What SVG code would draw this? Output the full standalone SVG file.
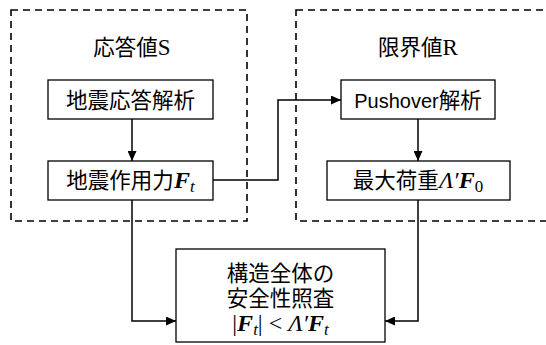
<svg xmlns="http://www.w3.org/2000/svg" width="546" height="345" viewBox="0 0 546 345">
<style>
.frame{fill:none;stroke:#000;stroke-width:1.6;stroke-dasharray:7,5}
.box{fill:#fff;stroke:#000;stroke-width:1.3}
.ln{fill:none;stroke:#000;stroke-width:1.5}
.jp{font-family:"Noto Sans CJK JP","Noto Sans",sans-serif;font-size:21.5px;fill:#000}
.lat{font-family:"Liberation Sans",Arial,sans-serif;font-size:20px}
.ser{font-family:"Liberation Serif","Times New Roman",serif;font-size:23px}
.mb{font-family:"Liberation Serif","Times New Roman",serif;font-weight:bold;font-style:italic;font-size:24px}
.mi{font-family:"Liberation Serif","Times New Roman",serif;font-style:italic;font-size:24px}
.sub{font-family:"Liberation Serif","Times New Roman",serif;font-size:17px}
.math{font-family:"Liberation Serif","Times New Roman",serif;font-size:24px}
</style>
<defs>
<marker id="ah" viewBox="0 0 10 10" refX="10" refY="5" markerWidth="10" markerHeight="9" markerUnits="userSpaceOnUse" orient="auto" preserveAspectRatio="none">
<path d="M0,0 L10,5 L0,10 z" fill="#000"/>
</marker>
</defs>
<g id="frame-S">
<rect class="frame" x="11" y="10" width="236" height="211"/>
<text class="jp" x="132" y="55" text-anchor="middle">応答値<tspan class="ser">S</tspan></text>
</g>
<g id="frame-R">
<rect class="frame" x="296" y="10" width="260" height="211"/>
<text class="jp" x="418" y="55" text-anchor="middle">限界値<tspan class="ser">R</tspan></text>
</g>
<g id="connectors">
<line class="ln" x1="132" y1="119" x2="132" y2="161" marker-end="url(#ah)"/>
<line class="ln" x1="418" y1="119" x2="418" y2="161" marker-end="url(#ah)"/>
<polyline class="ln" points="213,180 278,180 278,100 341,100" marker-end="url(#ah)"/>
<polyline class="ln" points="132,200 132,321 176,321" marker-end="url(#ah)"/>
<polyline class="ln" points="418,200 418,321 385,321" marker-end="url(#ah)"/>
</g>
<g id="node-response-analysis">
<rect class="box" x="48" y="80" width="165" height="39"/>
<text class="jp" x="130.5" y="107.5" text-anchor="middle">地震応答解析</text>
</g>
<g id="node-seismic-force">
<rect class="box" x="48" y="161" width="165" height="39"/>
<text class="jp" x="130.5" y="188" text-anchor="middle">地震作用力<tspan class="mb">F</tspan><tspan class="sub" font-style="italic" dy="4">t</tspan></text>
</g>
<g id="node-pushover">
<rect class="box" x="341" y="80" width="154" height="39"/>
<text class="jp" x="418" y="107.5" text-anchor="middle"><tspan class="lat">Pushover</tspan>解析</text>
</g>
<g id="node-max-load">
<rect class="box" x="327" y="161" width="183" height="39"/>
<text class="jp" x="418" y="188" text-anchor="middle">最大荷重<tspan class="mi">Λ′</tspan><tspan class="mb">F</tspan><tspan class="sub" dy="4">0</tspan></text>
</g>
<g id="node-safety-check">
<rect class="box" x="176" y="249" width="209" height="93"/>
<text class="jp" text-anchor="middle"><tspan x="280.5" y="281">構造全体の</tspan><tspan x="280.5" y="306">安全性照査</tspan></text>
<text class="math" x="280.5" y="331" text-anchor="middle">|<tspan class="mb">F</tspan><tspan class="sub" font-style="italic" dy="4">t</tspan><tspan dy="-4">| &lt; </tspan><tspan class="mi">Λ′</tspan><tspan class="mb">F</tspan><tspan class="sub" font-style="italic" dy="4">t</tspan></text>
</g>
</svg>
